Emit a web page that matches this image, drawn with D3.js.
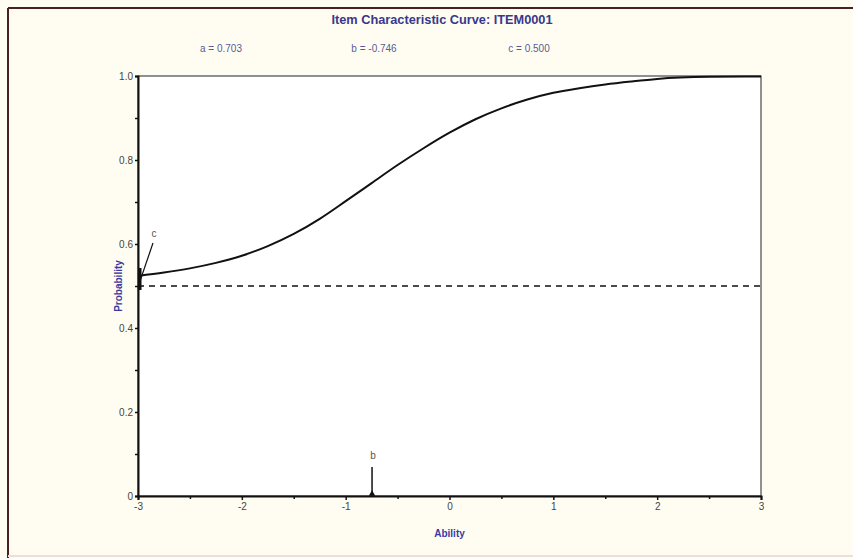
<!DOCTYPE html>
<html>
<head>
<meta charset="utf-8">
<script src="https://cdn.jsdelivr.net/npm/d3@7"></script>
<style>
  body { margin: 0; background: #fffdf2; }
  svg { display: block; font-family: "Liberation Sans", Arial, sans-serif; }
</style>
</head>
<body>
<svg width="853" height="558"></svg>
<script>
// item parameters shown above the plot
var params = [
  { label: "a = ", value: "0.703", x: 0 },
  { label: "b = ", value: "-0.746", x: 1 },
  { label: "c = ", value: "0.500", x: 2 }
];
var itemName = "ITEM0001";
var bParam = -0.746;
var cParam = 0.5;

// curve values
var theta = [-3, -2.75, -2.5, -2.25, -2, -1.75, -1.5, -1.25, -1, -0.75, -0.5, -0.25,
             0, 0.25, 0.5, 0.75, 1, 1.25, 1.5, 1.75, 2, 2.5, 3];
var prob = [0.524, 0.532, 0.542, 0.555, 0.572, 0.595, 0.624, 0.66, 0.702, 0.745, 0.788, 0.828,
            0.865, 0.897, 0.923, 0.944, 0.96, 0.971, 0.98, 0.987, 0.993, 0.998, 0.999];

var xTicks = [-3, -2, -1, 0, 1, 2, 3];
var xMinor = [-2.5, -1.5, -0.5, 0.5, 1.5, 2.5];
var yTicks = [0, 0.2, 0.4, 0.6, 0.8, 1.0];
var yMinor = [0.1, 0.3, 0.5, 0.7, 0.9];

var svg = d3.select("svg"),
    width = +svg.attr("width"),
    height = +svg.attr("height");

var margin = { left: 138, right: 92, top: 76, bottom: 62 };
var pw = width - margin.left - margin.right,
    ph = height - margin.top - margin.bottom;

var x = d3.scaleLinear().domain([-3, 3]).range([margin.left, margin.left + pw]);
var y = d3.scaleLinear().domain([0, 1]).range([margin.top + ph, margin.top]);

// window frame
svg.append("line").attr("x1", 8).attr("y1", 8).attr("x2", width).attr("y2", 8)
  .attr("stroke", "#4a2020").attr("stroke-width", 2);
svg.append("line").attr("x1", 8).attr("y1", 8).attr("x2", 8).attr("y2", height)
  .attr("stroke", "#4a2020").attr("stroke-width", 2);
svg.append("line").attr("x1", 8).attr("y1", height - 2).attr("x2", width).attr("y2", height - 2)
  .attr("stroke", "#f2dcd6").attr("stroke-width", 2);

// plot area
svg.append("rect")
  .attr("x", margin.left).attr("y", margin.top)
  .attr("width", pw).attr("height", ph)
  .attr("fill", "#ffffff")
  .attr("stroke", "#222").attr("stroke-width", 1);

// title and parameters
svg.append("text")
  .attr("x", 442).attr("y", 24)
  .attr("text-anchor", "middle")
  .attr("font-size", 12).attr("font-weight", "bold")
  .attr("fill", "#38388c")
  .attr("textLength", 221).attr("lengthAdjust", "spacingAndGlyphs")
  .text("Item Characteristic Curve: " + itemName);

var paramX = [221, 374, 529];
svg.selectAll(".param")
  .data(params)
  .enter()
  .append("text")
    .attr("class", "param")
    .attr("x", function (d) { return paramX[d.x]; })
    .attr("y", 52)
    .attr("text-anchor", "middle")
    .attr("font-size", 10)
    .attr("fill", "#5a5a96")
    .text(function (d) { return d.label + d.value; });

// axes
var xAxis = svg.append("g")
  .attr("transform", "translate(0," + (margin.top + ph) + ")")
  .call(d3.axisBottom(x).tickValues(xTicks).tickSize(4).tickPadding(3)
    .tickFormat(function (d) { return d; }));
xAxis.select(".domain").attr("stroke", "#111").attr("stroke-width", 2);
xAxis.selectAll(".tick line").attr("stroke", "#111").attr("stroke-width", 1.5);
xAxis.selectAll(".tick text").attr("font-size", 10).attr("fill", "#444");

svg.append("g")
  .attr("transform", "translate(0," + (margin.top + ph) + ")")
  .call(d3.axisBottom(x).tickValues(xMinor).tickSize(3).tickFormat(""))
  .call(function (g) { g.select(".domain").remove(); })
  .selectAll(".tick line").attr("stroke", "#111").attr("stroke-width", 1.5);

var yAxis = svg.append("g")
  .attr("transform", "translate(" + margin.left + ",0)")
  .call(d3.axisLeft(y).tickValues(yTicks).tickSize(3).tickPadding(2)
    .tickFormat(function (d) { return d === 0 ? "0" : d3.format(".1f")(d); }));
yAxis.select(".domain").attr("stroke", "#111").attr("stroke-width", 2);
yAxis.selectAll(".tick line").attr("stroke", "#111").attr("stroke-width", 1.5);
yAxis.selectAll(".tick text").attr("font-size", 10).attr("fill", "#444");

svg.append("g")
  .attr("transform", "translate(" + margin.left + ",0)")
  .call(d3.axisLeft(y).tickValues(yMinor).tickSize(3).tickFormat(""))
  .call(function (g) { g.select(".domain").remove(); })
  .selectAll(".tick line").attr("stroke", "#111").attr("stroke-width", 1.5);

// axis labels
svg.append("text")
  .attr("x", x(0)).attr("y", 537)
  .attr("text-anchor", "middle")
  .attr("font-size", 10).attr("font-weight", "bold")
  .attr("fill", "#3a3aa0")
  .text("Ability");

svg.append("text")
  .attr("transform", "translate(122," + y(0.5) + ") rotate(-90)")
  .attr("text-anchor", "middle")
  .attr("font-size", 10).attr("font-weight", "bold")
  .attr("fill", "#3a3aa0")
  .text("Probability");

// lower asymptote c
svg.append("line")
  .attr("x1", x(-3)).attr("y1", y(cParam))
  .attr("x2", x(3)).attr("y2", y(cParam))
  .attr("stroke", "#111").attr("stroke-width", 1.5)
  .attr("stroke-dasharray", "6,5");

// icc curve
var points = theta.map(function (t, i) { return [t, prob[i]]; });
var line = d3.line()
  .x(function (d) { return x(d[0]); })
  .y(function (d) { return y(d[1]); })
  .curve(d3.curveMonotoneX);

svg.append("path")
  .datum(points)
  .attr("d", line)
  .attr("fill", "none")
  .attr("stroke", "#111")
  .attr("stroke-width", 2);

// c marker
svg.append("line")
  .attr("x1", x(-3) + 1).attr("y1", y(cParam) - 2)
  .attr("x2", x(-3) + 15).attr("y2", y(cParam) - 43)
  .attr("stroke", "#111").attr("stroke-width", 1.2);
svg.append("line")
  .attr("x1", x(-3) + 2).attr("y1", y(cParam) - 18)
  .attr("x2", x(-3) + 2).attr("y2", y(cParam) + 4)
  .attr("stroke", "#111").attr("stroke-width", 3);
svg.append("text")
  .attr("x", x(-3) + 16).attr("y", y(cParam) - 49)
  .attr("text-anchor", "middle")
  .attr("font-size", 10).attr("fill", "#555")
  .text("c");

// b marker
svg.append("line")
  .attr("x1", x(bParam)).attr("y1", y(0))
  .attr("x2", x(bParam)).attr("y2", y(0) - 29)
  .attr("stroke", "#111").attr("stroke-width", 1.5);
svg.append("path")
  .attr("d", d3.symbol().type(d3.symbolTriangle).size(18))
  .attr("transform", "translate(" + x(bParam) + "," + (y(0) - 2) + ")")
  .attr("fill", "#111");
svg.append("text")
  .attr("x", x(bParam) + 1).attr("y", y(0) - 37)
  .attr("text-anchor", "middle")
  .attr("font-size", 10).attr("fill", "#555")
  .text("b");
</script>
</body>
</html>
